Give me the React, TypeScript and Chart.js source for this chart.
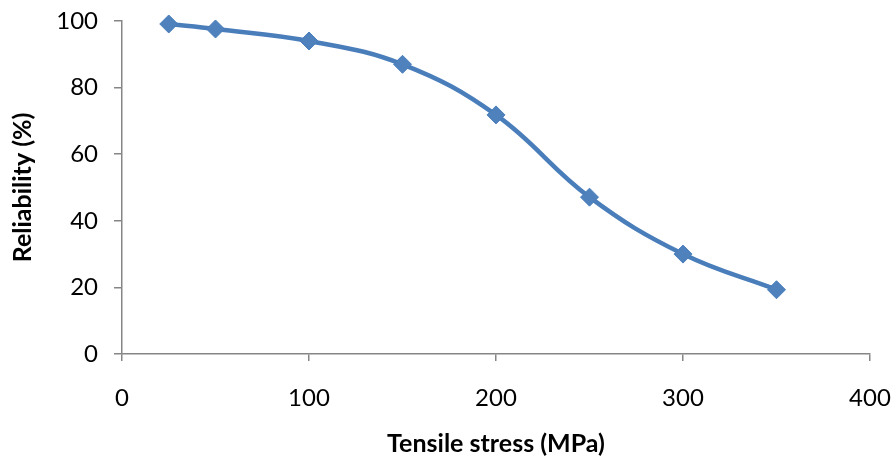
import React, { useEffect, useRef } from "react";
import { Chart, registerables } from "chart.js";

Chart.register(...registerables);

const stress = [25, 50, 100, 150, 200, 250, 300, 350];
const reliability = [99.1, 97.6, 94, 87, 71.8, 47.1, 30, 19.3];
const xTicks = [0, 100, 200, 300, 400];
const yTicks = [0, 20, 40, 60, 80, 100];

const AXIS = "#868686";
const FONT = "Lato";

export default function App() {
  const ref = useRef<HTMLCanvasElement>(null);
  useEffect(() => {
    document.body.style.margin = "0";
    const ctx = ref.current!;
    const chart = new Chart(ctx, {
      type: "line",
      data: {
        datasets: [
          {
            data: stress.map((x, i) => ({ x, y: reliability[i] })),
            borderColor: "#4A7EBB",
            backgroundColor: "#4F81BD",
            borderWidth: 4.5,
            pointStyle: "rectRot",
            pointRadius: 9,
            pointBorderWidth: 1,
            pointBorderColor: "#4A7EBB",
            pointBackgroundColor: "#4F81BD",
            tension: 0.4,
            fill: false,
            clip: false,
          } as any,
        ],
      },
      options: {
        animation: false,
        responsive: false,
        maintainAspectRatio: false,
        layout: { padding: { left: 0, right: 26, top: 21, bottom: 0 } },
        plugins: { legend: { display: false }, tooltip: { enabled: false } },
        scales: {
          x: {
            type: "linear",
            min: 0,
            max: 400,
            afterBuildTicks: (s: any) => {
              s.ticks = xTicks.map((v) => ({ value: v }));
            },
            afterFit: (s: any) => {
              s.height = 114;
              s.paddingLeft = 0;
              s.paddingRight = 0;
            },
            grid: {
              display: true,
              drawOnChartArea: false,
              drawTicks: true,
              tickLength: 7,
              color: AXIS,
              lineWidth: 1.5,
            },
            border: { display: true, color: AXIS, width: 1.5 },
            ticks: {
              padding: 23,
              color: "#000",
              font: { family: FONT, size: 24 },
              maxRotation: 0,
            },
            title: {
              display: true,
              text: "Tensile stress (MPa)",
              color: "#000",
              font: { family: FONT, size: 25, weight: "bold" },
              padding: { top: 0, bottom: 9 },
            },
          },
          y: {
            type: "linear",
            min: 0,
            max: 100,
            afterBuildTicks: (s: any) => {
              s.ticks = yTicks.map((v) => ({ value: v }));
            },
            afterFit: (s: any) => {
              s.width = 122;
              s.paddingTop = 0;
              s.paddingBottom = 0;
            },
            grid: {
              display: true,
              drawOnChartArea: false,
              drawTicks: true,
              tickLength: 8,
              color: AXIS,
              lineWidth: 1.5,
            },
            border: { display: true, color: AXIS, width: 1.5 },
            ticks: {
              padding: 16,
              color: "#000",
              font: { family: FONT, size: 24 },
            },
            title: {
              display: true,
              text: "Reliability (%)",
              color: "#000",
              font: { family: FONT, size: 25, weight: "bold" },
              padding: { top: 8, bottom: 0 },
            },
          },
        },
      },
    });
    return () => chart.destroy();
  }, []);
  return (
    <div style={{ width: 896, height: 468, background: "#fff" }}>
      <canvas ref={ref} width={896} height={468} style={{ display: "block" }} />
    </div>
  );
}
